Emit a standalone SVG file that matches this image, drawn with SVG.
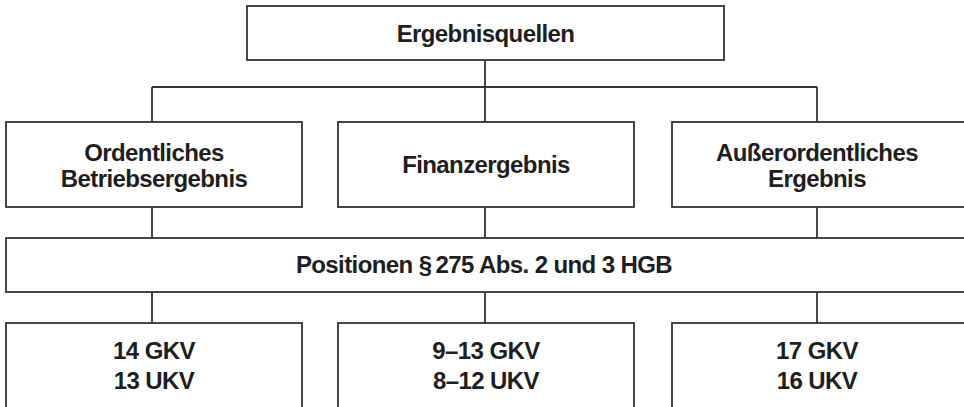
<svg xmlns="http://www.w3.org/2000/svg" width="964" height="407" viewBox="0 0 964 407">
  <style>
    .box { fill: #ffffff; stroke: #333333; stroke-width: 1.8; }
    .wire { fill: none; stroke: #333333; stroke-width: 1.8; }
    .lbl { font-family: "Liberation Sans", Arial, sans-serif; font-weight: bold; font-size: 24px; letter-spacing: -0.6px; fill: #1e1e1e; text-anchor: middle; }
  </style>
  <rect width="964" height="407" fill="#ffffff"/>

  <!-- connectors -->
  <g id="connectors" class="wire">
    <path d="M485 60 V87 M152 87 H817 M152 87 V122 M485 87 V122 M817 87 V122"/>
    <path d="M152 207 V238 M485 207 V238 M817 207 V238"/>
    <path d="M152 292 V323 M485 292 V323 M817 292 V323"/>
  </g>

  <g id="ergebnisquellen">
    <rect class="box" x="247" y="6" width="477" height="54"/>
    <text class="lbl" x="485.5" y="42">Ergebnisquellen</text>
  </g>

  <g id="ordentliches-betriebsergebnis">
    <rect class="box" x="6" y="122" width="296" height="85"/>
    <text class="lbl" x="154" y="161">Ordentliches</text>
    <text class="lbl" x="154" y="187">Betriebsergebnis</text>
  </g>

  <g id="finanzergebnis">
    <rect class="box" x="338" y="122" width="296" height="85"/>
    <text class="lbl" x="486" y="173">Finanzergebnis</text>
  </g>

  <g id="ausserordentliches-ergebnis">
    <rect class="box" x="672" y="122" width="300" height="85"/>
    <text class="lbl" x="817" y="161">Außerordentliches</text>
    <text class="lbl" x="817" y="187">Ergebnis</text>
  </g>

  <g id="positionen">
    <rect class="box" x="6" y="238" width="966" height="54"/>
    <text class="lbl" x="484" y="273">Positionen §&#8201;275 Abs. 2 und 3 HGB</text>
  </g>

  <g id="gkv-14">
    <rect class="box" x="6" y="323" width="296" height="100"/>
    <text class="lbl" x="154" y="359">14 GKV</text>
    <text class="lbl" x="154" y="389">13 UKV</text>
  </g>

  <g id="gkv-9-13">
    <rect class="box" x="338" y="323" width="296" height="100"/>
    <text class="lbl" x="486" y="359">9–13 GKV</text>
    <text class="lbl" x="486" y="389">8–12 UKV</text>
  </g>

  <g id="gkv-17">
    <rect class="box" x="672" y="323" width="300" height="100"/>
    <text class="lbl" x="817" y="359">17 GKV</text>
    <text class="lbl" x="817" y="389">16 UKV</text>
  </g>
</svg>
